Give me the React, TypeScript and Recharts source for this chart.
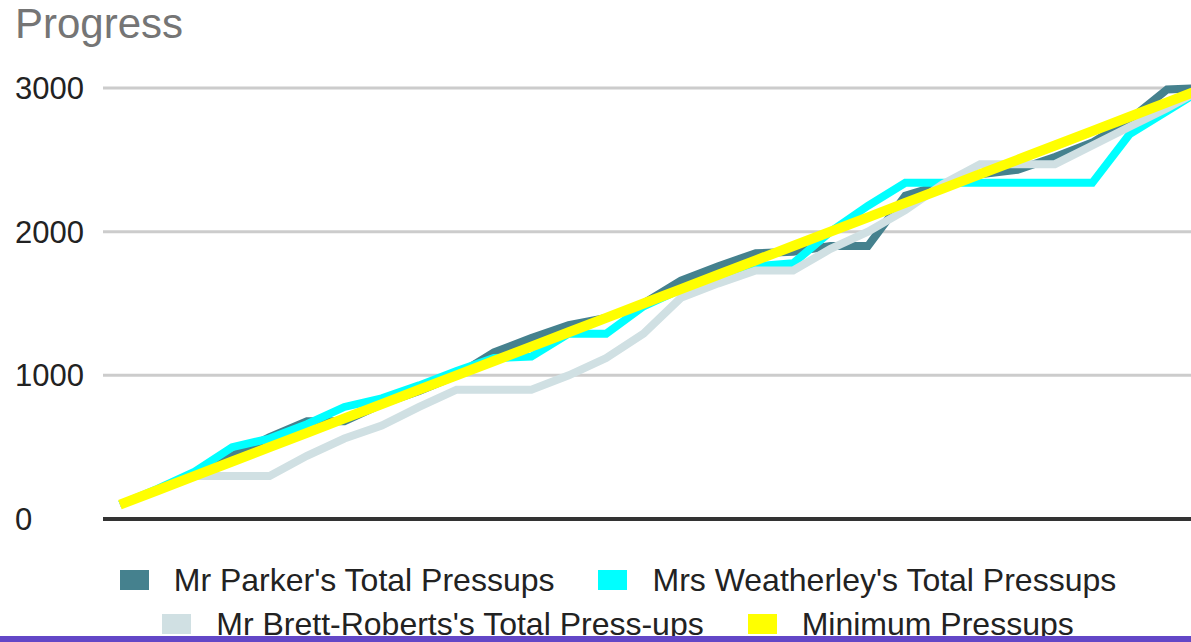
import React from "react";
import { LineChart, Line, CartesianGrid, XAxis, YAxis } from "recharts";

const days = [
  "1", "2", "3", "4", "5", "6", "7", "8", "9", "10",
  "11", "12", "13", "14", "15", "16", "17", "18", "19", "20",
  "21", "22", "23", "24", "25", "26", "27", "28", "29", "30",
];

const parker = [
  100, 200, 310, 440, 570, 680, 680, 800, 890, 1000,
  1160, 1260, 1350, 1400, 1500, 1660, 1760, 1850, 1860, 1900,
  1900, 2250, 2330, 2400, 2430, 2520, 2620, 2780, 2990, 3000,
];

const weatherley = [
  100, 210, 330, 500, 560, 660, 780, 840, 930, 1030,
  1120, 1130, 1290, 1290, 1480, 1600, 1700, 1760, 1780, 2000,
  2180, 2340, 2340, 2340, 2340, 2340, 2340, 2680, 2840, 3000,
];

const brettRoberts = [
  100, 200, 300, 300, 300, 440, 560, 650, 780, 900,
  900, 900, 1000, 1120, 1290, 1540, 1640, 1730, 1730, 1880,
  2000, 2150, 2330, 2470, 2470, 2470, 2600, 2730, 2860, 3000,
];

const minimum = [
  100, 200, 300, 400, 500, 600, 700, 800, 900, 1000,
  1100, 1200, 1300, 1400, 1500, 1600, 1700, 1800, 1900, 2000,
  2100, 2200, 2300, 2400, 2500, 2600, 2700, 2800, 2900, 3000,
];

const yTicks = [0, 1000, 2000, 3000];

const series = [
  { key: "parker", name: "Mr Parker's Total Pressups", color: "#45818e", width: 8 },
  { key: "weatherley", name: "Mrs Weatherley's Total Pressups", color: "#00ffff", width: 8 },
  { key: "brett", name: "Mr Brett-Roberts's Total Press-ups", color: "#d0e0e3", width: 8 },
  { key: "minimum", name: "Minimum Pressups", color: "#ffff00", width: 10 },
];

const data = days.map((d, i) => ({
  day: d,
  parker: parker[i],
  weatherley: weatherley[i],
  brett: brettRoberts[i],
  minimum: minimum[i],
}));

const FONT = "'Liberation Sans', Arial, sans-serif";

const LeftTick = (props: any) => {
  const { y, payload } = props;
  return (
    <text x={15} y={y} dy={11} textAnchor="start" fontSize={31} fill="#222" fontFamily={FONT}>
      {payload.value}
    </text>
  );
};

const LegendItem = ({ s }: { s: (typeof series)[number] }) => (
  <div style={{ display: "flex", alignItems: "center", margin: "0 22px" }}>
    <div style={{ width: 29, height: 20, background: s.color, marginRight: 25 }} />
    <span>{s.name}</span>
  </div>
);

export default function App() {
  return (
    <div
      style={{
        position: "fixed",
        top: 0,
        left: 0,
        width: 1191,
        height: 642,
        overflow: "hidden",
        background: "#fff",
        fontFamily: FONT,
      }}
    >
      <div style={{ position: "absolute", left: 15, top: 0, fontSize: 42, color: "#757575", lineHeight: "48px" }}>
        Progress
      </div>
      <LineChart
        width={1210}
        height={540}
        data={data}
        margin={{ top: 88, right: 5.5, bottom: 20, left: 0 }}
        style={{ position: "absolute", left: 0, top: 0 }}
      >
        <CartesianGrid vertical={false} stroke="#cccccc" strokeWidth={3} />
        <XAxis
          dataKey="day"
          height={1}
          tick={false}
          tickLine={false}
          padding={{ left: 17, right: 0 }}
          axisLine={{ stroke: "#333", strokeWidth: 4 }}
        />
        <YAxis
          width={103}
          domain={[0, 3000]}
          ticks={yTicks}
          axisLine={false}
          tickLine={false}
          tick={<LeftTick />}
        />
        {series.map((s) => (
          <Line
            key={s.key}
            dataKey={s.key}
            name={s.name}
            type="linear"
            stroke={s.color}
            strokeWidth={s.width}
            dot={false}
            isAnimationActive={false}
          />
        ))}
      </LineChart>
      <div
        style={{
          position: "absolute",
          left: 0,
          top: 558,
          width: 1236,
          fontSize: 32,
          color: "#222",
        }}
      >
        <div style={{ display: "flex", justifyContent: "center", height: 44, alignItems: "center" }}>
          <LegendItem s={series[0]} />
          <LegendItem s={series[1]} />
        </div>
        <div style={{ display: "flex", justifyContent: "center", height: 44, alignItems: "center" }}>
          <LegendItem s={series[2]} />
          <LegendItem s={series[3]} />
        </div>
      </div>
      <div style={{ position: "absolute", left: 0, top: 636, width: 1191, height: 6, background: "#6347c7" }} />
    </div>
  );
}
